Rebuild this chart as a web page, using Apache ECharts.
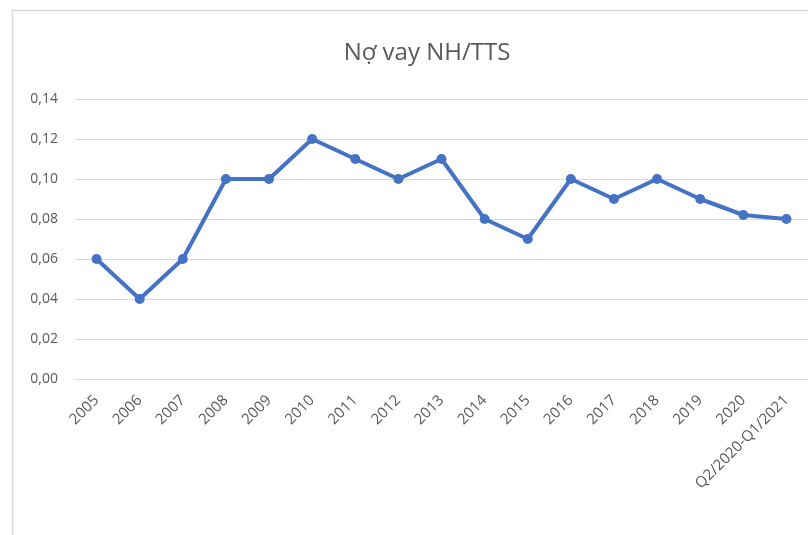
<!DOCTYPE html>
<html>
<head>
<meta charset="utf-8">
<script src="https://cdn.jsdelivr.net/npm/echarts@6/dist/echarts.min.js"></script>
<style>
  html, body { margin: 0; padding: 0; background: #ffffff; }
  #chart { width: 808px; height: 535px; }
</style>
</head>
<body>
<div id="chart"></div>
<script>
// Period labels along the x axis
const categories = ['2005', '2006', '2007', '2008', '2009', '2010', '2011', '2012', '2013',
  '2014', '2015', '2016', '2017', '2018', '2019', '2020', 'Q2/2020-Q1/2021'];

// Bank debt to total assets ratio
const debtRatio = [0.06, 0.04, 0.06, 0.10, 0.10, 0.12, 0.11, 0.10, 0.11,
  0.08, 0.07, 0.10, 0.09, 0.10, 0.09, 0.082, 0.08];

const yMin = 0;
const yMax = 0.14;
const yStep = 0.02;

const font = '"Open Sans", "Noto Sans", sans-serif';
const chart = echarts.init(document.getElementById('chart'), null, { renderer: 'canvas' });

chart.setOption({
  backgroundColor: '#ffffff',
  animation: false,
  textStyle: { fontFamily: font },
  graphic: [{
    type: 'rect',
    shape: { x: 12.5, y: 10.5, width: 820, height: 560 },
    style: { fill: 'none', stroke: '#d9d9d9', lineWidth: 1.5 },
    silent: true
  }],
  title: {
    text: 'Nợ vay NH/TTS',
    left: 422,
    textAlign: 'center',
    top: 36,
    textStyle: {
      fontFamily: font,
      fontSize: 24,
      fontWeight: 'normal',
      color: '#595959'
    }
  },
  grid: { left: 75, right: 0, top: 99, height: 280 },
  xAxis: {
    type: 'category',
    data: categories,
    boundaryGap: true,
    axisLine: { show: true, lineStyle: { color: '#d9d9d9', width: 1 } },
    axisTick: { show: false },
    axisLabel: {
      rotate: 45,
      interval: 0,
      margin: 19,
      color: '#595959',
      fontSize: 15,
      fontFamily: font
    }
  },
  yAxis: {
    type: 'value',
    min: yMin,
    max: yMax,
    interval: yStep,
    axisLine: { show: false },
    axisTick: { show: false },
    splitLine: { lineStyle: { color: '#d9d9d9', width: 1 } },
    axisLabel: {
      margin: 17,
      color: '#595959',
      fontSize: 14,
      fontFamily: font,
      formatter: v => v.toFixed(2).replace('.', ',')
    }
  },
  series: [{
    type: 'line',
    data: debtRatio,
    symbol: 'circle',
    symbolSize: 10,
    lineStyle: { color: '#4472c4', width: 4 },
    itemStyle: { color: '#4472c4' }
  }]
});
</script>
</body>
</html>
